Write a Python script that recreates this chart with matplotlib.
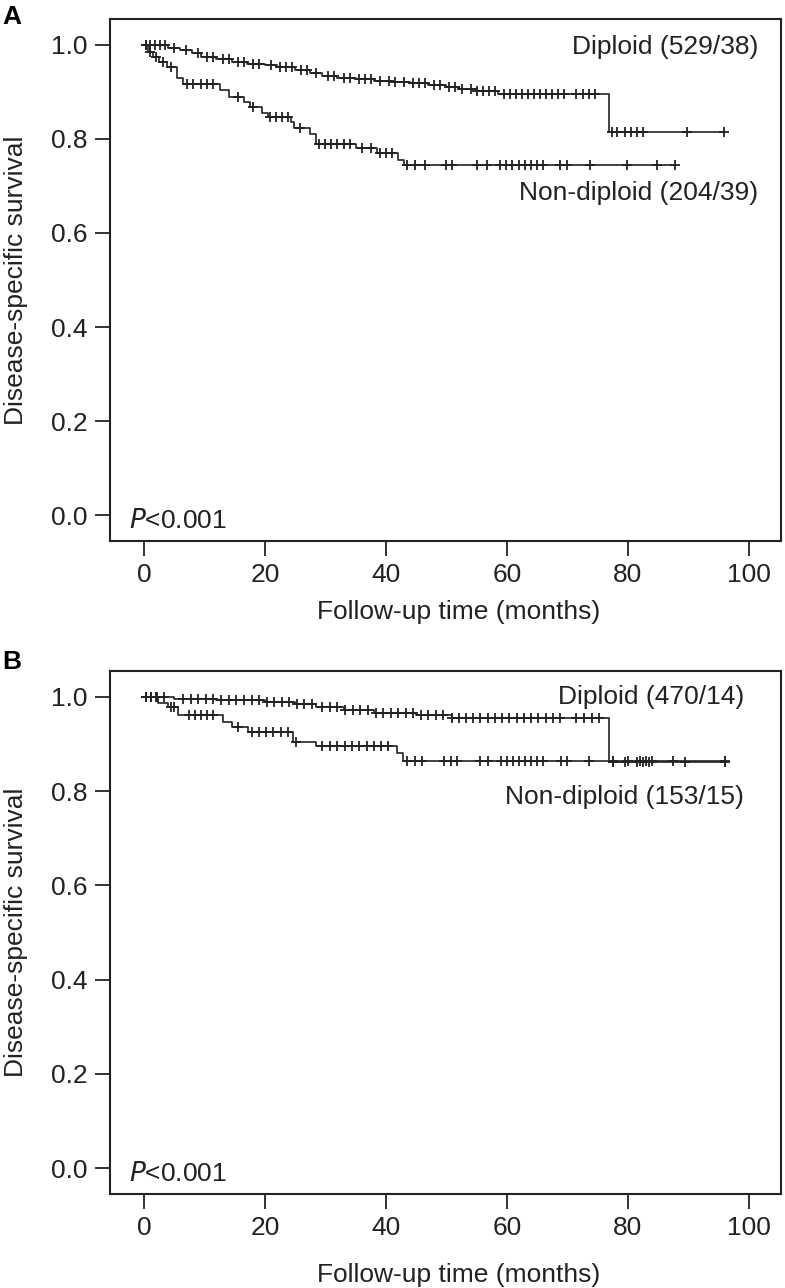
import numpy as np
import matplotlib
matplotlib.use('Agg')
import matplotlib.pyplot as plt

plt.rcParams['font.family'] = ['Liberation Sans', 'DejaVu Sans']

# ---- Panel A: event times / survival after each event, and censoring times ----
a_dip_event_t = [4, 6, 8, 9.5, 12, 14.5, 17, 20, 22, 25, 27.5, 29.5, 32, 35, 38, 41, 44,
                 47, 50, 52, 55, 58.5, 76.8]
a_dip_event_s = [0.994, 0.989, 0.982, 0.975, 0.970, 0.964, 0.960, 0.957, 0.952, 0.947,
                 0.941, 0.934, 0.930, 0.927, 0.924, 0.921, 0.918, 0.914, 0.910, 0.906,
                 0.902, 0.896, 0.814]
a_dip_censor = [0.3, 1, 1.8, 2.6, 3.5, 5, 7, 9, 10.5, 11.5, 13, 14, 15.5, 16.5, 18, 19, 21,
                22.5, 23.5, 24.5, 26, 27, 28.5, 30.5, 31.5, 33, 34, 35.5, 36.5, 37.5, 39,
                40.5, 41.5, 43, 44.5, 45.5, 46.5, 48, 49, 50.5, 51.5, 52.5, 54, 55, 56, 57,
                58, 59.5, 60.5, 61.5, 62.5, 63.5, 64.5, 65.5, 66.5, 67.5, 68.5, 69.5, 71.5,
                72.5, 73.5, 74.5, 77.3, 78.2, 79.5, 80.5, 81.5, 82.5, 89.7, 95.8]

a_non_event_t = [0.7, 1.5, 2.5, 3.8, 5.5, 6.5, 12.5, 14, 16.5, 17.5, 19.5, 20.5, 24.3, 24.8,
                 27.5, 28.5, 35, 38.5, 42, 43]
a_non_event_s = [0.985, 0.975, 0.963, 0.953, 0.930, 0.917, 0.904, 0.889, 0.879, 0.868,
                 0.856, 0.847, 0.835, 0.823, 0.810, 0.790, 0.780, 0.770, 0.756, 0.744]
a_non_censor = [0.3, 1, 2, 3.2, 4.5, 7.2, 8.2, 9.5, 10.5, 11.5, 15.5, 18, 20.8, 21.8, 22.8,
                23.8, 25.8, 29, 30, 31, 32, 33, 34, 36, 37.5, 39, 40, 41, 43.5, 44.8, 46.5,
                50, 51, 55, 56.7, 58.8, 59.8, 60.8, 62, 63, 64, 65, 66, 68.8, 70, 73.7, 79.8,
                84.8, 87.8]

# ---- Panel B ----
b_dip_event_t = [5, 12, 20, 25, 28.5, 33, 38, 45, 51, 76.8]
b_dip_event_s = [0.996, 0.993, 0.990, 0.985, 0.978, 0.972, 0.966, 0.961, 0.956, 0.862]
b_dip_censor = [0.3, 1.2, 2.2, 3.3, 6.5, 7.8, 9, 10.2, 11.5, 12.8, 14, 15.2, 16.5, 17.8, 19,
                20.3, 21.5, 22.8, 24, 25.3, 26.5, 27.8, 29.5, 30.8, 32, 33.3, 34.5, 35.8, 37,
                38.3, 39.5, 40.8, 42, 43.3, 44.5, 45.8, 47, 48.3, 49.5, 51, 52, 53.2, 54.4,
                55.6, 56.8, 58, 59.2, 60.4, 61.6, 62.8, 64, 65.2, 66.4, 67.6, 68.8, 71.5,
                72.7, 74, 75.2, 77.5, 79.5, 81.5, 82.5, 83.5, 89.5, 96]

b_non_event_t = [2.3, 4, 5.6, 13, 14.6, 17.2, 24.6, 28.5, 41.8, 42.8]
b_non_event_s = [0.987, 0.979, 0.962, 0.947, 0.937, 0.926, 0.905, 0.895, 0.882, 0.863]
b_non_censor = [0.3, 1.2, 2, 4.5, 5, 7.5, 8.5, 9.5, 10.5, 11.5, 15.5, 17.8, 19, 20.2, 21.4,
                22.6, 23.8, 25.2, 29.5, 30.8, 32, 33.2, 34.4, 35.6, 36.8, 38, 39.2, 40.4,
                43.5, 44.8, 46, 49.6, 50.8, 51.8, 55.5, 56.8, 59, 60, 61, 62, 63, 64, 65, 66,
                69, 70, 73.5, 77.5, 80, 82, 83, 84, 87.5, 96]

x_ticks = [0, 20, 40, 60, 80, 100]
y_ticks = [0.0, 0.2, 0.4, 0.6, 0.8, 1.0]

W, H = 785, 1288
LINE_COLOR = '#222222'
FS = 19


def px(x, y):
    """像素坐标转换为figure坐标"""
    return x / W, 1 - y / H


def draw_km(ax, event_t, event_s, censor_t):
    """绘制KM阶梯曲线与删失标记"""
    end_t = max(censor_t)
    t = np.concatenate([[0], event_t, [end_t]])
    s = np.concatenate([[1.0], event_s, [event_s[-1]]])
    ax.step(t, s, where='post', color=LINE_COLOR, lw=1.2)
    # 删失点位置取自阶梯函数
    idx = np.searchsorted(event_t, censor_t, side='right')
    cs = np.concatenate([[1.0], event_s])[idx]
    ax.plot(censor_t, cs, ls='none', marker='+', ms=7, mew=1.3, color=LINE_COLOR)


def style_axes(ax):
    ax.set_xlim(-5.6, 105.3)
    ax.set_ylim(-0.055, 1.055)
    ax.set_xticks(x_ticks)
    ax.set_xticklabels([str(v) for v in x_ticks])
    ax.set_yticks(y_ticks)
    ax.set_yticklabels([f'{v:.1f}' for v in y_ticks])
    ax.tick_params(length=11, width=1.3, labelsize=FS, pad=5, color='#222222',
                   labelcolor='#222222')
    for sp in ax.spines.values():
        sp.set_linewidth(1.5)
        sp.set_color('#222222')


def main():
    fig = plt.figure(figsize=(W / 100, H / 100), dpi=100)

    panels = [
        dict(top=19, bottom=541, label='A', label_y=17,
             curves=[(a_dip_event_t, a_dip_event_s, a_dip_censor),
                     (a_non_event_t, a_non_event_s, a_non_censor)],
             t1='Diploid (529/38)', y1=0.996, t2='Non-diploid (204/39)', y2=0.685,
             tx=101.5, xlab_y=612),
        dict(top=671, bottom=1194, label='B', label_y=662,
             curves=[(b_dip_event_t, b_dip_event_s, b_dip_censor),
                     (b_non_event_t, b_non_event_s, b_non_censor)],
             t1='Diploid (470/14)', y1=1.0, t2='Non-diploid (153/15)', y2=0.787,
             tx=99.2, xlab_y=1275),
    ]

    for p in panels:
        left, bottom = 110 / W, 1 - p['bottom'] / H
        ax = fig.add_axes([left, bottom, 671 / W, (p['bottom'] - p['top']) / H])
        for et, es, ct in p['curves']:
            draw_km(ax, et, es, ct)
        style_axes(ax)
        ax.text(p['tx'], p['y1'], p['t1'], ha='right', va='center', fontsize=FS,
                color='#222222')
        ax.text(p['tx'], p['y2'], p['t2'], ha='right', va='center', fontsize=FS,
                color='#222222')
        ax.text(-2.4, -0.012, '$P$<0.001', ha='left', va='center', fontsize=FS,
                color='#222222')

        fig.text(*px(12, p['label_y']), p['label'], ha='center', va='center',
                 fontsize=FS, fontweight='bold')
        fig.text(*px(16, (p['top'] + p['bottom']) / 2), 'Disease-specific survival',
                 rotation=90, ha='center', va='center', fontsize=FS, color='#222222')
        fig.text(*px(459, p['xlab_y']), 'Follow-up time (months)', ha='center',
                 va='center', fontsize=FS, color='#222222')

    fig.savefig('out.png', dpi=100)


if __name__ == "__main__":
    main()
